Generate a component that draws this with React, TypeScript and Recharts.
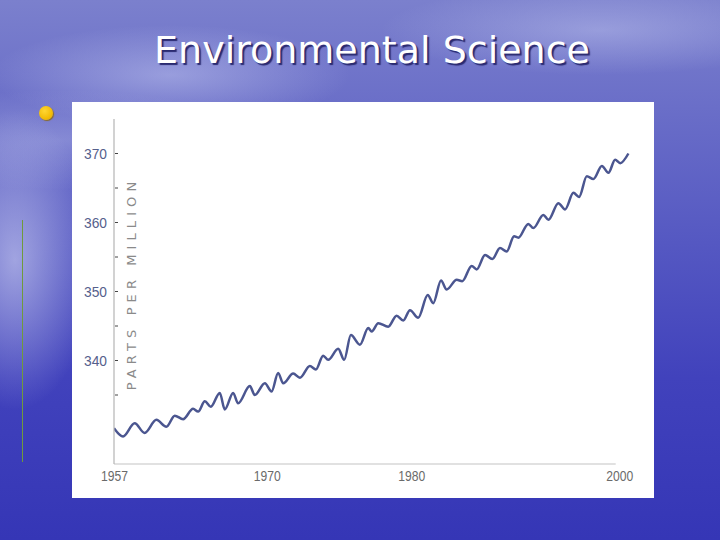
import React from "react"
import { LineChart, Line, XAxis, YAxis, ReferenceLine } from "recharts"

// seasonal peaks and troughs
const years = [
  1957.0, 1957.77, 1958.76, 1959.61, 1960.61, 1961.46, 1962.17, 1962.88, 1963.73, 1964.16,
  1964.73, 1965.24, 1966.0, 1966.43, 1967.14, 1967.56, 1968.56, 1968.98, 1969.84, 1970.41,
  1970.97, 1971.4, 1972.25, 1972.82, 1973.67, 1974.18, 1974.8, 1975.23, 1976.08, 1976.59,
  1977.16, 1977.93, 1978.64, 1978.93, 1979.49, 1980.34, 1981.05, 1981.62, 1982.19, 1982.89,
  1983.7, 1984.17, 1984.83, 1985.31, 1986.17, 1986.64, 1987.44, 1987.87, 1988.58, 1989.2,
  1989.85, 1990.42, 1991.05, 1991.41, 1992.26, 1992.69, 1993.54, 1993.97, 1994.82, 1995.39,
  1996.1, 1996.58, 1997.24, 1997.8, 1998.52, 1999.08, 1999.65, 2000.08, 2000.78,
]

const ppm = [
  330.2, 329.0, 330.9, 329.5, 331.4, 330.4, 332.0, 331.5, 333.0, 332.6,
  334.1, 333.3, 335.3, 332.9, 335.3, 333.8, 336.3, 335.0, 336.7, 335.5,
  338.2, 336.7, 338.1, 337.5, 339.2, 338.7, 340.7, 340.1, 341.7, 340.1,
  343.7, 342.3, 344.7, 344.2, 345.4, 344.9, 346.5, 345.8, 347.3, 346.2,
  349.5, 348.3, 351.6, 350.3, 351.7, 351.5, 353.7, 353.2, 355.3, 354.7,
  356.3, 355.8, 358.0, 357.8, 359.8, 359.2, 361.1, 360.4, 362.8, 361.9,
  364.3, 363.7, 366.7, 366.3, 368.2, 367.2, 369.1, 368.6, 370.0,
]

const yTicks = [335, 340, 345, 350, 355, 360, 365, 370]
const xTickPositions = [1957, 1970, 1982.3, 2000]
const xTickLabels = ["1957", "1970", "1980", "2000"]

const data = years.map((year, i) => ({ year, ppm: ppm[i] }))

const labelFont = "'Liberation Sans', Arial, sans-serif"

function YTick({ x, y, payload }: any) {
  const v = payload.value
  return (
    <g>
      <line x1={x + 1} x2={x + 4} y1={y} y2={y} stroke="#444" strokeWidth={1} />
      {v % 10 === 0 && (
        <text
          x={x - 7}
          y={y}
          dy={5}
          textAnchor="end"
          fontSize={15}
          fontFamily={labelFont}
          fill="#55608c"
          textLength={23}
          lengthAdjust="spacingAndGlyphs"
        >
          {v}
        </text>
      )}
    </g>
  )
}

function XTick({ x, y, payload }: any) {
  const idx = xTickPositions.indexOf(payload.value)
  return (
    <text
      x={x - 13}
      y={y}
      dy={17}
      fontSize={15}
      fontFamily={labelFont}
      fill="#6a6a6a"
      textLength={27}
      lengthAdjust="spacingAndGlyphs"
    >
      {xTickLabels[idx]}
    </text>
  )
}

function YLabel({ viewBox }: any) {
  const cx = viewBox.x + viewBox.width + 17
  const cy = viewBox.y + viewBox.height / 2 - 8
  return (
    <text
      x={cx}
      y={cy}
      transform={`rotate(-90 ${cx} ${cy})`}
      textAnchor="middle"
      dominantBaseline="central"
      fontSize={13}
      fontFamily="'DejaVu Sans', sans-serif"
      fill="#8a8a8a"
      style={{ letterSpacing: "5.1px" }}
    >
      PARTS PER MILLION
    </text>
  )
}

const background = [
  "radial-gradient(ellipse 180px 50px at 170px 75px, rgba(215,220,250,0.4), rgba(215,220,250,0) 100%)",
  "radial-gradient(ellipse 220px 45px at 600px 30px, rgba(215,220,250,0.35), rgba(215,220,250,0) 100%)",
  "radial-gradient(ellipse 80px 150px at 15px 260px, rgba(225,228,250,0.55), rgba(225,228,250,0) 100%)",
  "radial-gradient(ellipse 200px 50px at 60px 140px, rgba(210,215,245,0.3), rgba(210,215,245,0) 100%)",
  "linear-gradient(180deg, #7b80cd 0%, #6a6ec8 20%, #5558c2 45%, #4142bc 70%, #3536b6 100%)",
].join(", ")

export default function App() {
  return (
    <div
      style={{
        position: "absolute",
        left: 0,
        top: 0,
        width: 720,
        height: 540,
        overflow: "hidden",
        background,
      }}
    >
      <div
        style={{
          position: "absolute",
          top: 31,
          left: 0,
          width: 744,
          textAlign: "center",
          fontFamily: "'DejaVu Sans', sans-serif",
          fontSize: 38,
          lineHeight: "38px",
          color: "#ffffff",
          textShadow: "2px 2px 1px #2a2a70",
          whiteSpace: "nowrap",
        }}
      >
        Environmental Science
      </div>
      <div
        style={{
          position: "absolute",
          left: 39,
          top: 106,
          width: 14,
          height: 14,
          borderRadius: 7,
          background: "radial-gradient(circle at 40% 35%, #ffd633, #f0b800 70%)",
          boxShadow: "1px 1px 1px #8a6a20",
        }}
      />
      <div style={{ position: "absolute", left: 22, top: 220, width: 1, height: 242, background: "#6f9a3c" }} />
      <div style={{ position: "absolute", left: 72, top: 102, width: 582, height: 396, background: "#ffffff" }}>
        <LineChart width={582} height={396} data={data} margin={{ top: 17, right: 23, bottom: 0, left: 0 }}>
          <XAxis
            type="number"
            dataKey="year"
            domain={[1957, 2001]}
            ticks={xTickPositions}
            tick={<XTick />}
            tickSize={0}
            tickMargin={0}
            axisLine={false}
            tickLine={false}
            height={34}
            allowDataOverflow
          />
          <YAxis
            type="number"
            domain={[325, 375]}
            ticks={yTicks}
            tick={<YTick />}
            tickSize={0}
            tickMargin={0}
            tickLine={false}
            axisLine={{ stroke: "#b4b4b4", strokeWidth: 1.2 }}
            width={42}
            interval={0}
            allowDataOverflow
            label={{ content: <YLabel /> }}
          />
          <ReferenceLine
            segment={[
              { x: 1957, y: 325 },
              { x: 1999.7, y: 325 },
            ]}
            stroke="#c4c4c4"
            strokeWidth={1.2}
          />
          <Line
            type="monotone"
            dataKey="ppm"
            stroke="#4b5690"
            strokeWidth={2.5}
            dot={false}
            isAnimationActive={false}
          />
        </LineChart>
      </div>
    </div>
  )
}
